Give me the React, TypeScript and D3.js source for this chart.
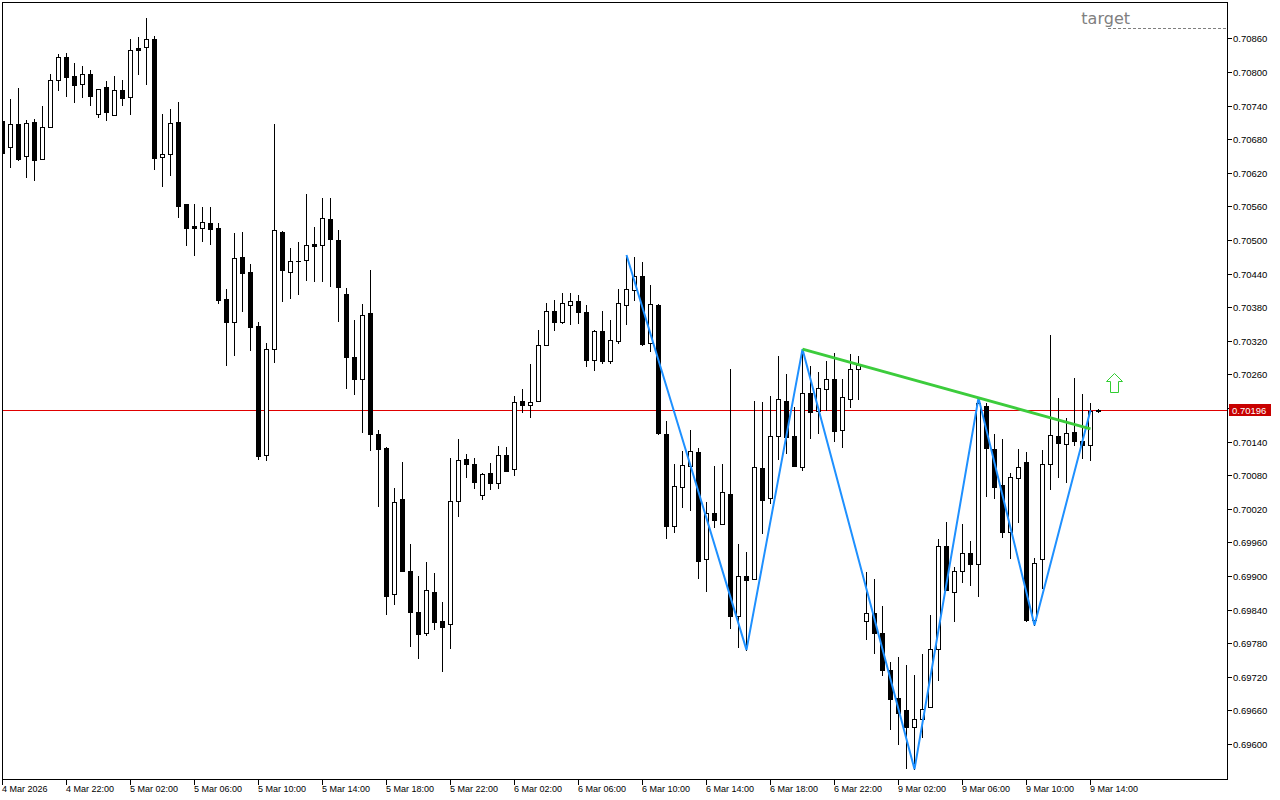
import * as d3 from "d3";

// M30 bars, 4 Mar 18:00 .. 9 Mar 14:30, prices in points (1 point = 0.00001)
const OPEN_PTS = [
  70712, 70666, 70707, 70650, 70711, 70645, 70702, 70786, 70827, 70793,
  70778, 70796, 70725, 70773, 70723, 70768, 70755, 70842, 70845, 70859,
  70648, 70653, 70711, 70564, 70525, 70521, 70530, 70521, 70395, 70353,
  70470, 70443, 70346, 70116, 70305, 70514, 70443, 70462, 70464, 70493,
  70491, 70537, 70500, 70403, 70291, 70252, 70370, 70153, 70128, 69868,
  70037, 69909, 69836, 69798, 69871, 69820, 69814, 70034, 70109, 70100,
  70045, 70084, 70066, 70116, 70091, 70212, 70205, 70212, 70312, 70373,
  70353, 70384, 70391, 70371, 70286, 70337, 70284, 70320, 70384, 70411,
  70436, 70316, 70384, 70153, 69989, 70059, 70096, 70121, 69930, 70012,
  69993, 70046, 69828, 69900, 69895, 70093, 70039, 70150, 70212, 70150,
  70095, 70227, 70195, 70234, 70252, 70161, 70216, 70270, 69820, 69834,
  69798, 69732, 69682, 69661, 69630, 69645, 69666, 69770, 69953, 69871,
  69909, 69941, 69921, 70203, 70127, 70062, 69978, 70075, 70103, 69821,
  69930, 70100, 70150, 70136, 70157, 70141, 70134, 70195,
];
const HIGH_PTS = [
  70718, 70752, 70771, 70714, 70716, 70739, 70796, 70832, 70834, 70816,
  70811, 70803, 70770, 70784, 70793, 70786, 70859, 70862, 70896, 70864,
  70725, 70734, 70746, 70564, 70564, 70559, 70559, 70530, 70412, 70512,
  70514, 70457, 70353, 70316, 70707, 70516, 70486, 70496, 70582, 70523,
  70575, 70575, 70518, 70414, 70357, 70386, 70446, 70161, 70130, 70057,
  70103, 69957, 69900, 69925, 69905, 69853, 70111, 70145, 70118, 70111,
  70084, 70102, 70132, 70130, 70221, 70234, 70278, 70339, 70387, 70393,
  70405, 70405, 70402, 70384, 70339, 70373, 70357, 70412, 70473, 70470,
  70461, 70420, 70386, 70177, 70100, 70123, 70161, 70128, 70032, 70096,
  70100, 70270, 69957, 69943, 70212, 70211, 70221, 70293, 70261, 70202,
  70305, 70275, 70264, 70284, 70298, 70252, 70296, 70293, 69907, 69895,
  69846, 69746, 69755, 69741, 69723, 69761, 69830, 69966, 69996, 69916,
  69993, 69962, 70218, 70209, 70153, 70145, 70084, 70127, 70121, 69932,
  70125, 70330, 70218, 70182, 70253, 70225, 70209, 70198,
];
const LOW_PTS = [
  70637, 70630, 70643, 70612, 70607, 70645, 70702, 70768, 70757, 70746,
  70755, 70741, 70720, 70714, 70723, 70741, 70725, 70796, 70778, 70627,
  70596, 70616, 70541, 70491, 70473, 70498, 70493, 70387, 70277, 70295,
  70373, 70303, 70109, 70107, 70282, 70391, 70396, 70403, 70428, 70427,
  70427, 70418, 70355, 70236, 70225, 70157, 70125, 70025, 69832, 69850,
  69909, 69775, 69753, 69795, 69805, 69730, 69771, 70007, 70077, 70057,
  70037, 70055, 70057, 70087, 70080, 70193, 70184, 70212, 70312, 70339,
  70352, 70350, 70352, 70275, 70268, 70280, 70280, 70316, 70350, 70393,
  70312, 70302, 70153, 69968, 69978, 70023, 70018, 69896, 69873, 69987,
  69993, 69807, 69773, 69768, 69895, 69977, 70030, 70109, 70120, 70096,
  70089, 70146, 70155, 70196, 70141, 70130, 70202, 70216, 69787, 69762,
  69723, 69627, 69600, 69557, 69555, 69612, 69666, 69714, 69875, 69820,
  69889, 69884, 69864, 70043, 70039, 69970, 69932, 69996, 69820, 69812,
  69878, 70055, 70077, 70068, 70134, 70111, 70107, 70193,
];
const CLOSE_PTS = [
  70655, 70707, 70645, 70709, 70643, 70702, 70786, 70827, 70791, 70777,
  70796, 70757, 70770, 70728, 70768, 70753, 70839, 70840, 70859, 70646,
  70653, 70709, 70561, 70521, 70521, 70532, 70520, 70393, 70353, 70468,
  70441, 70345, 70114, 70305, 70518, 70446, 70462, 70462, 70491, 70489,
  70539, 70502, 70416, 70291, 70252, 70366, 70153, 70127, 69864, 70032,
  69909, 69836, 69796, 69875, 69818, 69809, 70034, 70107, 70100, 70068,
  70082, 70066, 70116, 70087, 70211, 70205, 70211, 70312, 70373, 70353,
  70387, 70391, 70371, 70286, 70337, 70284, 70321, 70387, 70412, 70436,
  70314, 70386, 70155, 69989, 70061, 70098, 70123, 69927, 70012, 70000,
  70050, 69828, 69900, 69893, 70095, 70036, 70150, 70216, 70148, 70096,
  70227, 70193, 70236, 70252, 70159, 70220, 70270, 70277, 69834, 69798,
  69732, 69680, 69655, 69630, 69645, 69662, 69770, 69953, 69875, 69909,
  69941, 69921, 70209, 70128, 70059, 69978, 70077, 70095, 69821, 69923,
  70100, 70152, 70137, 70155, 70141, 70134, 70195, 70196,
];

const PRICE_TICKS = [
  0.6960, 0.6966, 0.6972, 0.6978, 0.6984, 0.6990, 0.6996, 0.7002, 0.7008,
  0.7014, 0.7020, 0.7026, 0.7032, 0.7038, 0.7044, 0.7050, 0.7056, 0.7062,
  0.7068, 0.7074, 0.7080, 0.7086,
];
const TIME_TICK_BARS = [0, 8, 16, 24, 32, 40, 48, 56, 64, 72, 80, 88, 96, 104, 112, 120, 128, 136];
const TIME_TICK_LABELS = [
  "4 Mar 2026", "4 Mar 22:00", "5 Mar 02:00", "5 Mar 06:00", "5 Mar 10:00",
  "5 Mar 14:00", "5 Mar 18:00", "5 Mar 22:00", "6 Mar 02:00", "6 Mar 06:00",
  "6 Mar 10:00", "6 Mar 14:00", "6 Mar 18:00", "6 Mar 22:00", "9 Mar 02:00",
  "9 Mar 06:00", "9 Mar 10:00", "9 Mar 14:00",
];

// zigzag swing points [bar, price]
const ZIGZAG: [number, number][] = [
  [78, 0.70473], [93, 0.69768], [100, 0.70305], [114, 0.69555],
  [122, 0.70218], [129, 0.69812], [136, 0.70196],
];
// resistance trendline through two highs, extended to the last closed bar
const TREND_A: [number, number] = [100, 0.70305];
const TREND_B: [number, number] = [122, 0.70218];
const TREND_END_BAR = 136;

const BID = 0.70196;
const ARROW: [number, number] = [139, 0.7026];
const TARGET_PRICE = 0.70878;
const TARGET_BAR = 138;
const TARGET_TEXT_BAR = 141;

const W = 1280;
const H = 800;
const plot = { left: 2, top: 2, right: 1227, bottom: 779 };

const FONT = "'Liberation Sans', Arial, sans-serif";

export default function App() {
  const n = OPEN_PTS.length;
  const bars = d3.range(n).map((i) => ({
    i,
    o: OPEN_PTS[i] / 1e5,
    h: HIGH_PTS[i] / 1e5,
    l: LOW_PTS[i] / 1e5,
    c: CLOSE_PTS[i] / 1e5,
  }));

  const x = d3.scaleLinear().domain([0, 1]).range([2, 10]); // 8px per bar
  const y = d3.scaleLinear().domain([0.696, 0.7086]).range([744, 38.3]);
  const py = (p: number) => Math.round(y(p));

  const slope = (TREND_B[1] - TREND_A[1]) / (TREND_B[0] - TREND_A[0]);
  const trendEnd = TREND_A[1] + slope * (TREND_END_BAR - TREND_A[0]);

  const zz = d3
    .line<[number, number]>()
    .x((d) => x(d[0]) + 0.5)
    .y((d) => y(d[1]))(ZIGZAG);

  const ax = x(ARROW[0]) + 0.5;
  const ay = py(ARROW[1]) - 0.5;
  const arrowPath = `M${ax},${ay} L${ax + 8},${ay + 8} L${ax + 4},${ay + 8} L${ax + 4},${ay + 19} L${ax - 4},${ay + 19} L${ax - 4},${ay + 8} L${ax - 8},${ay + 8} Z`;

  const bidY = py(BID) + 0.5;
  const targetY = py(TARGET_PRICE) + 0.5;

  return (
    <svg
      width={W}
      height={H}
      style={{ position: "absolute", left: 0, top: 0, background: "#fff" }}
    >
      <defs>
        <clipPath id="plot">
          <rect x={plot.left + 1} y={plot.top + 1} width={plot.right - plot.left - 1} height={plot.bottom - plot.top - 1} />
        </clipPath>
      </defs>

      <g clipPath="url(#plot)">
        {/* bid line */}
        <line x1={plot.left} x2={plot.right} y1={bidY} y2={bidY} stroke="#e00000" strokeWidth={1} shapeRendering="crispEdges" />

        {/* candles */}
        <g shapeRendering="crispEdges">
          {bars.map((b) => {
            const cx = x(b.i);
            const top = py(Math.max(b.o, b.c));
            const bot = py(Math.min(b.o, b.c));
            const up = b.c > b.o;
            return (
              <g key={b.i}>
                <line x1={cx + 0.5} x2={cx + 0.5} y1={py(b.h)} y2={py(b.l) + 1} stroke="#000" />
                {bot - top < 1 ? (
                  <line x1={cx - 2} x2={cx + 3} y1={top + 0.5} y2={top + 0.5} stroke="#000" />
                ) : (
                  <rect
                    x={cx - 1.5}
                    y={top + 0.5}
                    width={4}
                    height={bot - top}
                    fill={up ? "#fff" : "#000"}
                    stroke="#000"
                  />
                )}
              </g>
            );
          })}
        </g>

        {/* zigzag */}
        <path d={zz ?? ""} fill="none" stroke="#1e90ff" strokeWidth={2} />

        {/* trendline */}
        <line
          x1={x(TREND_A[0]) + 0.5}
          y1={y(TREND_A[1])}
          x2={x(TREND_END_BAR) + 0.5}
          y2={y(trendEnd)}
          stroke="#3ccc3c"
          strokeWidth={3}
        />

        {/* arrow */}
        <path d={arrowPath} fill="#fff" stroke="#32cd32" strokeWidth={1} />

        {/* target */}
        <line
          x1={x(TARGET_BAR) + 2}
          x2={plot.right}
          y1={targetY}
          y2={targetY}
          stroke="#808080"
          strokeDasharray="3,2"
          shapeRendering="crispEdges"
        />
        <text
          x={x(TARGET_TEXT_BAR)}
          y={targetY - 5}
          textAnchor="end"
          fontFamily="'DejaVu Sans', Verdana, sans-serif"
          fontSize={16}
          fill="#808080"
        >
          target
        </text>
      </g>

      {/* frame */}
      <rect
        x={plot.left + 0.5}
        y={plot.top + 0.5}
        width={plot.right - plot.left}
        height={plot.bottom - plot.top}
        fill="none"
        stroke="#000"
        shapeRendering="crispEdges"
      />

      {/* price axis */}
      <g fontFamily={FONT} fontSize={9.5} fill="#000" shapeRendering="crispEdges">
        {PRICE_TICKS.map((p) => {
          const ty = py(p) + 0.5;
          return (
            <g key={p}>
              <line x1={plot.right} x2={plot.right + 5} y1={ty} y2={ty} stroke="#000" />
              <text x={plot.right + 6} y={ty + 3.5}>
                {p.toFixed(5)}
              </text>
            </g>
          );
        })}
        <rect x={plot.right + 2} y={bidY - 6.5} width={42} height={12} fill="#c80000" />
        <text x={plot.right + 5} y={bidY + 3.5} fill="#fff">
          {BID.toFixed(5)}
        </text>
      </g>

      {/* time axis */}
      <g fontFamily={FONT} fontSize={9} fill="#000" shapeRendering="crispEdges">
        {TIME_TICK_BARS.map((b, k) => {
          const tx = x(b) + 0.5;
          return (
            <g key={b}>
              <line x1={tx} x2={tx} y1={plot.bottom} y2={plot.bottom + 6} stroke="#000" />
              <text x={tx - 0.5} y={792}>
                {TIME_TICK_LABELS[k]}
              </text>
            </g>
          );
        })}
      </g>
    </svg>
  );
}
